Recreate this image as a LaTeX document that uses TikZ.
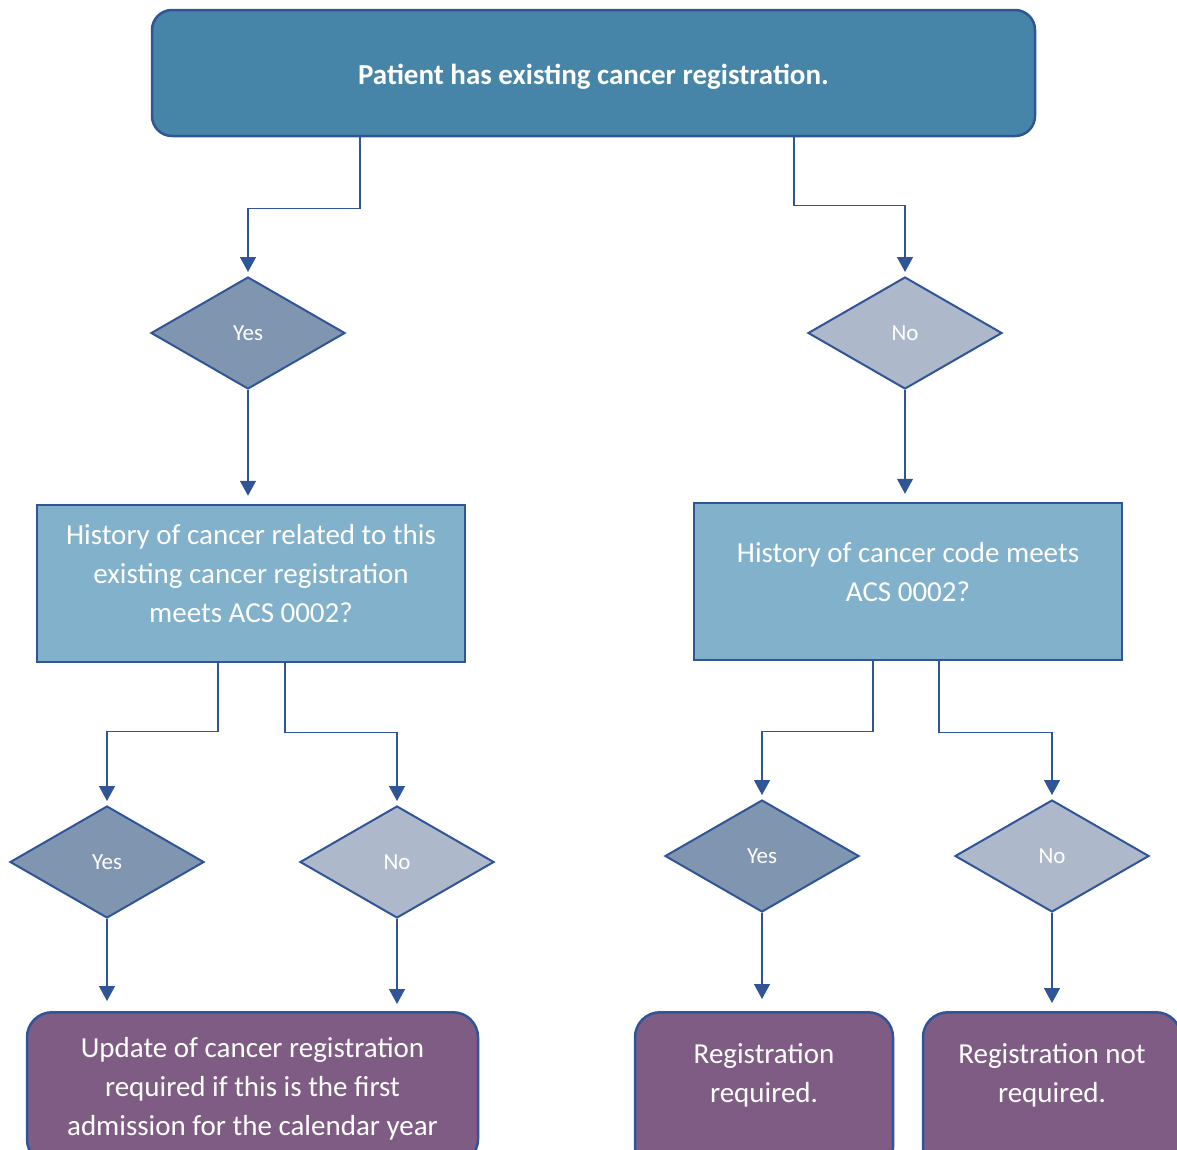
\documentclass[tikz,border=0pt]{standalone}
\usepackage{fontspec}
\setmainfont{Carlito}
\usetikzlibrary{shapes.geometric,arrows.meta}
\definecolor{edgeblue}{HTML}{2F5597}
\definecolor{topblue}{HTML}{4685A8}
\definecolor{askblue}{HTML}{82B1CC}
\definecolor{yesfill}{HTML}{8096B0}
\definecolor{nofill}{HTML}{ADB8CB}
\definecolor{endpurple}{HTML}{7F5C84}
\newcommand{\boxfont}{\fontsize{29}{39}\selectfont}
\newcommand{\lowpad}{\rule[-20pt]{0pt}{20pt}}
\begin{document}
\begin{tikzpicture}[x=1pt, y=-1pt,
    conn/.style={draw=edgeblue, line width=1.3pt, -{Triangle[width=16pt,length=15pt]}, shorten >=4pt},
    startbox/.style={rectangle, rounded corners=20pt, draw=edgeblue, line width=2.5pt, fill=topblue, text=white, font=\boxfont\bfseries, minimum width=883pt, minimum height=126pt},
    askbox/.style={rectangle, draw=edgeblue, line width=2.5pt, fill=askblue, text=white, align=center, font=\boxfont, minimum width=428pt, minimum height=157pt, inner sep=0pt},
    yesdia/.style={diamond, draw=edgeblue, line width=2pt, fill=yesfill, text=white, font=\fontsize{23}{27}\selectfont, minimum width=194pt, minimum height=112pt, inner sep=0pt},
    nodia/.style={yesdia, fill=nofill},
    endbox/.style={rectangle, rounded corners=25pt, draw=edgeblue, line width=2.5pt, fill=endpurple, text=white, align=center, font=\boxfont, minimum height=160pt, anchor=north, inner sep=0pt}]
\useasboundingbox (0,0) rectangle (1177,1149);
\clip (0,0) rectangle (1177,1149);

\node[startbox] (start) at (593.5,73) {\rule{0pt}{28pt}Patient has existing cancer registration.};

\node[yesdia] (yes1) at (248,333) {Yes};
\node[nodia] (no1) at (905,333) {No};

\node[askbox] (askL) at (251,583.5) {History of cancer related to this\\existing cancer registration\\meets ACS 0002?\lowpad};
\node[askbox] (askR) at (908,581.5) {History of cancer code meets\\ACS 0002?\lowpad};

\node[yesdia] (yes2) at (107,862) {Yes};
\node[nodia] (no2) at (397,862) {No};
\node[yesdia] (yes3) at (762,856) {Yes};
\node[nodia] (no3) at (1052,856) {No};

\node[endbox, minimum width=451pt, minimum height=152pt] (endL) at (252.5,1011) {Update of cancer registration\\required if this is the first\\admission for the calendar year};
\node[endbox, minimum width=258pt] (endM) at (764,1011) {Registration\\required.\\\mbox{}};
\node[endbox, minimum width=258pt] (endR) at (1052,1011) {Registration not\\required.\\\mbox{}};

% top level
\draw[conn] ([xshift=-233.5pt]start.south) -- ++(0,71) -| (yes1.north);
\draw[conn] ([xshift=200.5pt]start.south) -- ++(0,68) -| (no1.north);
\draw[conn, shorten >=8pt] (yes1.south) -- (yes1.south |- askL.north);
\draw[conn, shorten >=8pt] (no1.south) -- (no1.south |- askR.north);

% second level
\draw[conn] ([xshift=-33pt]askL.south) -- ++(0,68) -| (yes2.north);
\draw[conn] ([xshift=34pt]askL.south) -- ++(0,69) -| (no2.north);
\draw[conn] ([xshift=-35pt]askR.south) -- ++(0,70) -| (yes3.north);
\draw[conn] ([xshift=31pt]askR.south) -- ++(0,71) -| (no3.north);

\draw[conn, shorten >=10pt] (yes2.south) -- (yes2.south |- endL.north);
\draw[conn, shorten >=7pt] (no2.south) -- (no2.south |- endL.north);
\draw[conn, shorten >=12pt] (yes3.south) -- (yes3.south |- endM.north);
\draw[conn, shorten >=8pt] (no3.south) -- (no3.south |- endR.north);
\end{tikzpicture}
\end{document}
